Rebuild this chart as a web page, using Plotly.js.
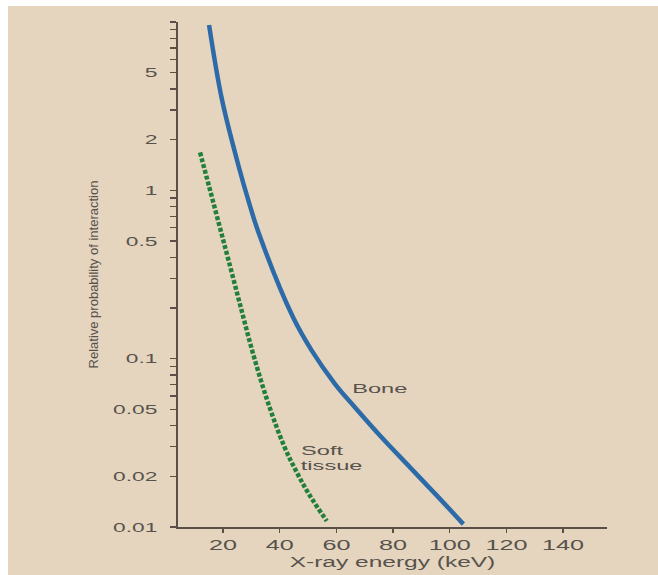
<!DOCTYPE html>
<html>
<head>
<meta charset="utf-8">
<script src="https://cdn.plot.ly/plotly-3.0.1.min.js"></script>
<style>
html,body{margin:0;padding:0;background:#ffffff;}
#chart{width:658px;height:575px;}
</style>
</head>
<body>
<div id="chart"></div>
<script>
// X-ray energy (keV) and relative probability of interaction
const boneEnergy = [15.06, 19.54, 25.40, 28.93, 32.46, 44.71, 51.31, 59.53, 66.59, 76.01, 86.0, 95.88, 104.81];
const boneProb   = [9.60, 3.51, 1.41, 0.872, 0.565, 0.176, 0.1116, 0.0707, 0.0513, 0.034, 0.0226, 0.0151, 0.0104];

const softEnergy = [11.88, 15.06, 18.41, 21.76, 26.0, 30.59, 35.88, 41.53, 46.12, 50.71, 56.6];
const softProb   = [1.68, 1.056, 0.645, 0.394, 0.2097, 0.1071, 0.0547, 0.0303, 0.02096, 0.01529, 0.01086];

const xTickVals = [20, 40, 60, 80, 100, 120, 140];
const xTickText = ['20', '40', '60', '80', '100', '120', '140'];

const yTickVals = [0.01,0.02,0.03,0.04,0.05,0.06,0.07,0.08,0.09,
                   0.1,0.2,0.3,0.4,0.5,0.6,0.7,0.8,0.9,
                   1,2,3,4,5,6,7,8,9,10];
const yLabelled = {0.01:'0.01',0.02:'0.02',0.05:'0.05',0.1:'0.1',0.5:'0.5',1:'1',2:'2',5:'5'};
const yTickText = yTickVals.map(v => yLabelled[v] || '');

const curveLabels = [
  {text: 'Bone',   x: 75.4, y: 0.0663},
  {text: 'Soft',   x: 54.8, y: 0.0286},
  {text: 'tissue', x: 58.4, y: 0.0231}
];

const textColor = '#57524c';
const axisColor = '#5b5047';
const bg = '#e5d5bf';

const traces = [
  {x: boneEnergy, y: boneProb, type: 'scatter', mode: 'lines', name: 'Bone',
   line: {color: '#2d6aa8', width: 4.5, shape: 'spline', smoothing: 1}, hoverinfo: 'skip'},
  {x: softEnergy, y: softProb, type: 'scatter', mode: 'lines', name: 'Soft tissue',
   line: {color: '#22803c', width: 4.5, dash: '4px,2px', shape: 'spline', smoothing: 1}, hoverinfo: 'skip'}
];

const layout = {
  width: 658, height: 575,
  margin: {l: 178, r: 51, t: 22, b: 48},
  paper_bgcolor: '#ffffff',
  plot_bgcolor: 'rgba(0,0,0,0)',
  showlegend: false,
  font: {family: 'Liberation Sans, Arial, sans-serif', color: textColor, size: 14},
  xaxis: {
    range: [4.1, 155.5],
    tickmode: 'array', tickvals: xTickVals, ticktext: xTickText,
    showgrid: false, zeroline: false,
    showline: true, linecolor: axisColor, linewidth: 2,
    ticks: 'outside', ticklen: 4, tickwidth: 1.5, tickcolor: axisColor,
    tickfont: {family: 'Liberation Sans, Arial, sans-serif', size: 14, color: textColor},
    title: {text: 'X-ray energy (keV)', standoff: 5,
            font: {family: 'Liberation Sans, Arial, sans-serif', size: 14, color: textColor}}
  },
  yaxis: {
    type: 'log', range: [-2, 1],
    tickmode: 'array', tickvals: yTickVals, ticktext: yTickText,
    showgrid: false, zeroline: false,
    showline: true, linecolor: axisColor, linewidth: 2,
    ticks: 'outside', ticklen: 6, tickwidth: 1.5, tickcolor: axisColor,
    ticklabelstandoff: 10,
    tickfont: {family: 'Liberation Sans, Arial, sans-serif', size: 13, color: textColor},
    title: {text: 'Relative probability of interaction', standoff: 31,
            font: {family: 'Liberation Sans, Arial, sans-serif', size: 13, color: textColor}}
  },
  annotations: curveLabels.map(a => ({
    x: a.x, y: Math.log10(a.y), xref: 'x', yref: 'y', text: a.text,
    showarrow: false, xanchor: 'center', yanchor: 'middle',
    font: {family: 'Liberation Sans, Arial, sans-serif', size: 13.5, color: textColor}
  })),
  shapes: [
    {type: 'rect', xref: 'paper', yref: 'paper', layer: 'below',
     x0: -0.3963, x1: 1.12, y0: -0.1, y1: 1.0317,
     fillcolor: bg, line: {width: 0}}
  ]
};

function stretch(sel, f) {
  document.querySelectorAll(sel).forEach(t => {
    const parts = t.querySelectorAll('tspan.line');
    const els = parts.length ? Array.from(parts) : [t];
    els.forEach(e => {
      const w = e.getComputedTextLength();
      if (w > 0) {
        e.setAttribute('textLength', (w * f).toFixed(1));
        e.setAttribute('lengthAdjust', 'spacingAndGlyphs');
      }
    });
  });
}

Plotly.newPlot('chart', traces, layout, {displayModeBar: false, staticPlot: true}).then(() => {
  stretch('.xtick text', 1.8);
  stretch('.ytick text', 1.75);
  stretch('.xtitle', 1.75);
  stretch('.annotation-text', 1.75);
});
</script>
</body>
</html>
